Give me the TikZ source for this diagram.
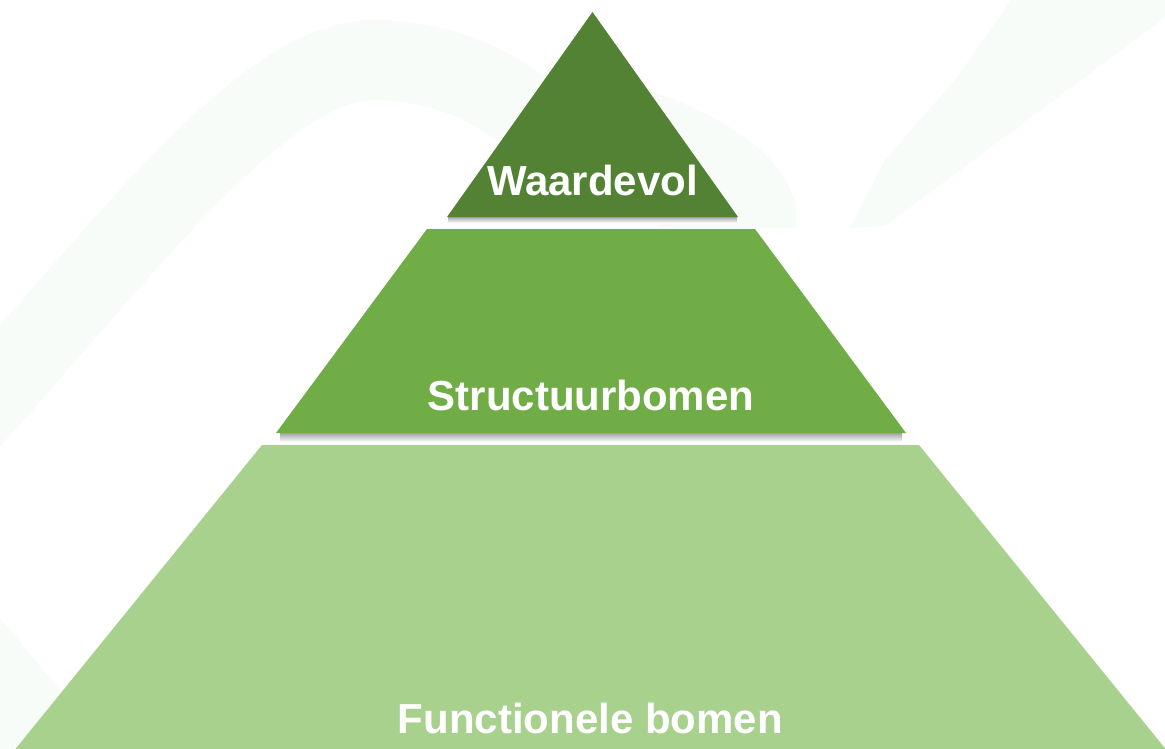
\documentclass[tikz,border=0pt]{standalone}
\usepackage{fontspec}
\setmainfont{Liberation Sans}
\definecolor{topgreen}{HTML}{548235}
\definecolor{midgreen}{HTML}{70AD47}
\definecolor{lowgreen}{HTML}{A9D18E}
\definecolor{watermark}{HTML}{F8FCF9}
\tikzset{
  layer/.style={draw=none},
  shadowstrip/.style={top color=black!40, bottom color=white, draw=none},
  label/.style={anchor=base, text=white, font=\bfseries\fontsize{42}{50}\selectfont, inner sep=0pt},
  faint/.style={draw=watermark, line cap=round, line join=round}
}
\begin{document}
\begin{tikzpicture}[x=1pt, y=-1pt]
\useasboundingbox (0,0) rectangle (1165,749);
\fill[white] (0,0) rectangle (1165,749);
% faint background brush strokes
\draw[faint, line width=80pt] (-30,420) .. controls (140,230) and (270,55) .. (380,60) .. controls (480,65) and (530,110) .. (570,160);
\fill[watermark] (640,88) .. controls (760,125) and (805,185) .. (795,228) -- (660,228) -- cycle;
\fill[watermark] (850,228) -- (885,226) -- (1175,10) -- (1175,-5) -- (1015,-5) -- (955,80) -- (885,160) -- cycle;
\fill[watermark] (-5,612) -- (60,690) -- (20,749) -- (-5,749) -- cycle;
% shadows under layers
\path[shadowstrip] (448,216) rectangle (737,223);
\path[shadowstrip] (280,432) rectangle (902,442);
% pyramid layers
\path[layer, fill=lowgreen] (262,445) -- (919,445) -- (1168,752) -- (13,752) -- cycle;
\path[layer, fill=midgreen] (427,229) -- (755,229) -- (906,433) -- (276,433) -- cycle;
\path[layer, fill=topgreen] (592.5,12) -- (738,217) -- (447,217) -- cycle;
% labels
\node[label] (waardevol) at (592.5,195) {Waardevol};
\node[label] (structuur) at (591,410) {Structuurbomen};
\node[label] (functionele) at (590.5,733) {Functionele bomen};
\end{tikzpicture}
\end{document}
